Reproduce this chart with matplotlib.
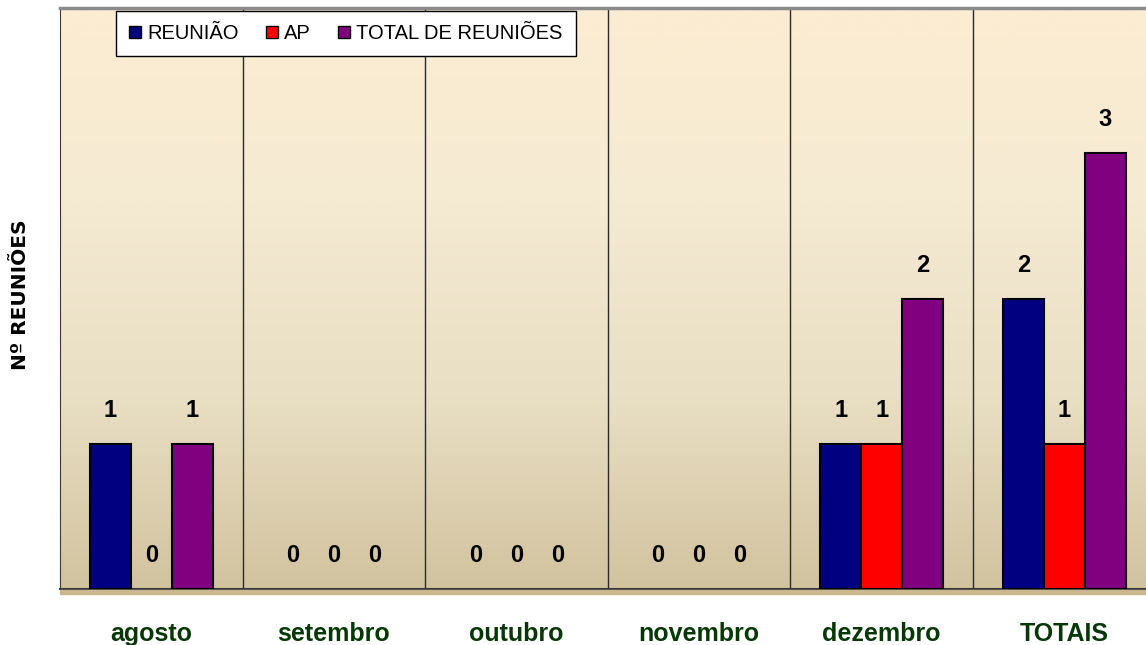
import numpy as np
import matplotlib.pyplot as plt
from matplotlib.colors import LinearSegmentedColormap
from matplotlib.lines import Line2D
from matplotlib.patches import Rectangle

months = ['agosto', 'setembro', 'outubro', 'novembro', 'dezembro', 'TOTAIS']
series_names = ['REUNIÃO', 'AP', 'TOTAL DE REUNIÕES']
reuniao = [1, 0, 0, 0, 1, 2]
ap = [0, 0, 0, 0, 1, 1]
total = [1, 0, 0, 0, 2, 3]
series_colors = ['#000080', '#FF0000', '#800080']


def main():
	plt.rcParams['font.family'] = ['Liberation Sans', 'DejaVu Sans']

	W, H = 1146, 645
	fig = plt.figure(figsize=(W / 100, H / 100), dpi=100)
	ax = fig.add_axes([60 / W, (H - 589) / H, 1095.6 / W, 581 / H])

	# background gradient
	bg = LinearSegmentedColormap.from_list('bg', ['#D2C39F', '#E9DFC4', '#F5EAD2', '#FCEDD2'])
	grad = np.linspace(0, 1, 256).reshape(-1, 1)
	ax.imshow(grad, cmap=bg, origin='lower', aspect='auto', extent=[-0.5, 5.5, 0, 4], zorder=0)

	x = np.arange(len(months))
	w = 0.2245
	for i, (vals, col) in enumerate(zip([reuniao, ap, total], series_colors)):
		pos = x + (i - 1) * w
		lws = [1.5 if v > 0 else 0 for v in vals]
		ax.bar(pos, vals, width=w, color=col, edgecolor='black', linewidth=lws, zorder=3)
		for p, v in zip(pos, vals):
			ax.annotate(str(v), (p, v), xytext=(0, 24), textcoords='offset points',
						ha='center', va='center', fontsize=17, fontweight='bold', color='black', zorder=4)

	for b in np.arange(0.5, 5.5, 1):
		ax.axvline(b, color='#2a2a2a', linewidth=1, zorder=1)

	ax.set_xlim(-0.5, 5.5)
	ax.set_ylim(0, 4)
	ax.set_yticks([])
	ax.set_xticks(x)
	ax.set_xticklabels(months, fontsize=18, fontweight='bold', color='#063806')
	ax.tick_params(axis='x', length=0, pad=24)

	ax.spines['left'].set_color('#3a3a3a')
	ax.spines['bottom'].set_color('#3a3a3a')
	ax.spines['bottom'].set_linewidth(1.5)
	ax.spines['top'].set_color('#8a8a8a')
	ax.spines['top'].set_linewidth(2.5)
	ax.spines['right'].set_visible(False)

	# shadow under the plot floor
	fig.patches.append(Rectangle((60 / W, (H - 594) / H), 1 - 60 / W, 4 / H,
								 transform=fig.transFigure, color='#C9B88F', zorder=0))

	fig.text(21 / W, 1 - 295 / H, 'Nº REUNIÕES', rotation=90, ha='center', va='center',
			 fontsize=14.5, fontweight='bold', family='DejaVu Sans')

	handles = [Line2D([], [], linestyle='none', marker='s', markersize=8,
					  markerfacecolor=c, markeredgecolor='black', markeredgewidth=1)
			   for c in series_colors]
	leg = ax.legend(handles, series_names, ncol=3, loc='upper left',
					bbox_to_anchor=(116 / W, 1 - 11 / H), bbox_transform=fig.transFigure,
					fontsize=14.5, frameon=True, fancybox=False, framealpha=1,
					edgecolor='black', handlelength=0.6, handletextpad=0.3,
					columnspacing=1.35, borderpad=0.65, borderaxespad=0)
	leg.get_frame().set_linewidth(1)
	leg.set_zorder(5)

	plt.savefig('out.png', dpi=100)


if __name__ == '__main__':
	main()
